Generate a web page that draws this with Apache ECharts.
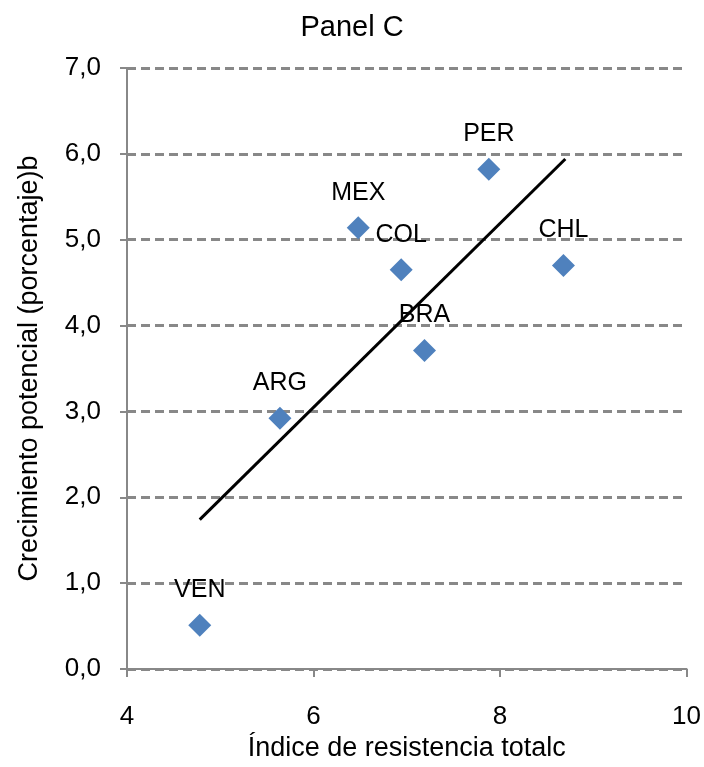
<!DOCTYPE html>
<html>
<head>
<meta charset="utf-8">
<script src="https://cdn.jsdelivr.net/npm/echarts@6/dist/echarts.min.js"></script>
<style>html,body{margin:0;padding:0;background:#fff}#c{width:704px;height:767px}</style>
</head>
<body>
<div id="c"></div>
<script>
const countries = ["VEN", "ARG", "MEX", "COL", "BRA", "PER", "CHL"];
const resistance = [4.78, 5.64, 6.48, 6.94, 7.19, 7.88, 8.68];
const growth = [0.51, 2.92, 5.14, 4.65, 3.71, 5.82, 4.70];
const trendX = [4.78, 8.70];
const trendY = [1.74, 5.94];
const yTicks = [0, 1, 2, 3, 4, 5, 6, 7];

const FONT = '"Liberation Sans", sans-serif';
const chart = echarts.init(document.getElementById('c'));
chart.setOption({
  animation: false,
  title: {
    text: 'Panel C', left: 'center', top: 8,
    textStyle: { fontFamily: FONT, fontSize: 29, fontWeight: 'normal', color: '#000' }
  },
  grid: { left: 127, right: 16, top: 68, bottom: 98 },
  xAxis: {
    type: 'value', min: 4, max: 10, interval: 2,
    name: 'Índice de resistencia totalc', nameLocation: 'middle', nameGap: 61,
    nameTextStyle: { fontFamily: FONT, fontSize: 27, color: '#000' },
    axisLine: { show: true, lineStyle: { color: '#888', width: 2 } },
    axisTick: { show: true, length: 8, lineStyle: { color: '#888', width: 2 } },
    axisLabel: { fontFamily: FONT, fontSize: 26, color: '#000', margin: 35 },
    splitLine: { show: false }
  },
  yAxis: {
    type: 'value', min: 0, max: 7, interval: 1,
    name: 'Crecimiento potencial (porcentaje)b', nameLocation: 'middle', nameGap: 84,
    nameTextStyle: { fontFamily: FONT, fontSize: 27, color: '#000' },
    axisLine: { show: true, lineStyle: { color: '#888', width: 2 } },
    axisTick: { show: true, length: 7, lineStyle: { color: '#888', width: 2 } },
    axisLabel: {
      fontFamily: FONT, fontSize: 26, color: '#000', margin: 26,
      formatter: v => v.toFixed(1).replace('.', ',')
    },
    splitLine: { show: true, lineStyle: { color: '#888', width: 3, type: [9, 5] } }
  },
  series: [
    {
      type: 'line', data: trendX.map((x, i) => [x, trendY[i]]),
      symbol: 'none', lineStyle: { color: '#000', width: 3 }, z: 2
    },
    {
      type: 'scatter', data: resistance.map((x, i) => [x, growth[i], countries[i]]),
      symbol: 'diamond', symbolSize: 23,
      itemStyle: { color: '#4F81BD', opacity: 1 },
      label: {
        show: true, position: 'top', distance: 11,
        formatter: p => p.data[2],
        fontFamily: FONT, fontSize: 25, color: '#000'
      },
      z: 3
    }
  ]
});
</script>
</body>
</html>
